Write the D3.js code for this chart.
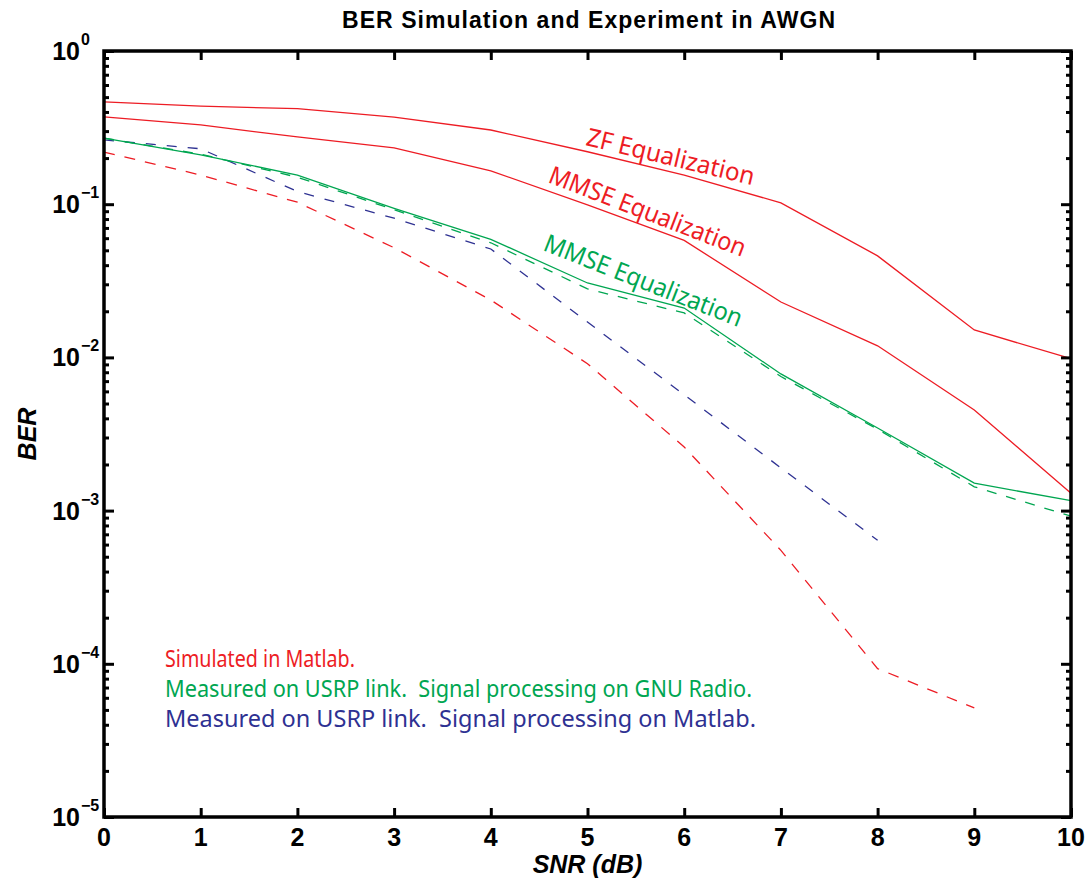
<!DOCTYPE html>
<html>
  <head>
    <title>BER Simulation and Experiment in AWGN</title>
    <script src="https://d3js.org/d3.v7.min.js"></script>
    <style>
      body { margin: 0; background: white; }
      .tick-label { font-family: "Liberation Sans", Arial, sans-serif; font-weight: bold; fill: black; }
      .note { font-family: "Noto Sans", "Open Sans", sans-serif; }
    </style>
  </head>
  <body>
    <script>
      let width = 1087, height = 882;
      let plotLeft = 104, plotRight = 1071, plotTop = 51, plotBottom = 817;

      // SNR points (dB)
      let snr = [0, 1, 2, 3, 4, 5, 6, 7, 8, 9, 10];
      // simulated in Matlab
      let zfSim = [0.465, 0.437, 0.42, 0.37, 0.305, 0.22, 0.155, 0.102, 0.046, 0.0151, 0.0098];
      let mmseSim = [0.371, 0.329, 0.275, 0.233, 0.165, 0.099, 0.058, 0.023, 0.0119, 0.00454, 0.0013];
      let awgnSim = [0.219, 0.155, 0.103, 0.052, 0.0237, 0.0091, 0.0026, 0.00055, 0.000093, 0.0000515];
      // measured, GNU Radio processing
      let mmseGnu = [0.27, 0.21, 0.155, 0.094, 0.059, 0.0306, 0.021, 0.0078, 0.00346, 0.00151, 0.00116];
      let awgnGnu = [0.27, 0.212, 0.15, 0.092, 0.056, 0.028, 0.0195, 0.0075, 0.0034, 0.00143, 0.00092];
      // measured, Matlab processing
      let awgnMatlab = [0.263, 0.23, 0.121, 0.081, 0.051, 0.017, 0.0057, 0.0019, 0.00064];

      let xTicks = [0, 1, 2, 3, 4, 5, 6, 7, 8, 9, 10];
      let yExponents = [0, -1, -2, -3, -4, -5];

      let red = "#ed1c24", green = "#00a651", blue = "#2e3192";

      let svg = d3.select("body").append("svg")
                  .attr("width", width)
                  .attr("height", height)
                  .style("background", "white");

      let x = d3.scaleLinear().domain([0, 10]).range([plotLeft, plotRight]);
      let y = d3.scaleLog().domain([1e-5, 1]).range([plotBottom, plotTop]);

      let line = d3.line()
                   .x(function(d) { return x(d[0]); })
                   .y(function(d) { return y(d[1]); });

      let series = [
        { values: zfSim, color: red, dash: null },
        { values: mmseSim, color: red, dash: null },
        { values: awgnSim, color: red, dash: "11,10" },
        { values: awgnMatlab, color: blue, dash: "10,11" },
        { values: awgnGnu, color: green, dash: "10,10" },
        { values: mmseGnu, color: green, dash: null }
      ];

      svg.append("g").selectAll("path").data(series)
         .enter().append("path")
         .attr("d", function(s) {
           return line(s.values.map(function(v, i) { return [snr[i], v]; }));
         })
         .attr("fill", "none")
         .attr("stroke", function(s) { return s.color; })
         .attr("stroke-width", 1.3)
         .attr("stroke-dasharray", function(s) { return s.dash; });

      // minor log ticks
      let minors = [];
      yExponents.slice(0, 5).forEach(function(e) {
        for (let k = 2; k <= 9; k++) minors.push(k * Math.pow(10, e - 1));
      });

      let axisStyle = function(g) {
        g.select(".domain").remove();
        g.selectAll(".tick line").attr("stroke", "black").attr("stroke-width", 3);
      };

      svg.append("g").attr("transform", `translate(0, ${plotBottom})`)
         .call(d3.axisBottom(x).tickValues(xTicks).tickSize(-9).tickFormat(""))
         .call(axisStyle);
      svg.append("g").attr("transform", `translate(0, ${plotTop})`)
         .call(d3.axisTop(x).tickValues(xTicks).tickSize(-9).tickFormat(""))
         .call(axisStyle);

      let majors = yExponents.map(function(e) { return Math.pow(10, e); });
      [[plotLeft, d3.axisLeft], [plotRight, d3.axisRight]].forEach(function(a) {
        svg.append("g").attr("transform", `translate(${a[0]}, 0)`)
           .call(a[1](y).tickValues(majors).tickSize(-10).tickFormat(""))
           .call(axisStyle);
        svg.append("g").attr("transform", `translate(${a[0]}, 0)`)
           .call(a[1](y).tickValues(minors).tickSize(-5).tickFormat(""))
           .call(axisStyle);
      });

      svg.append("rect")
         .attr("x", plotLeft).attr("y", plotTop)
         .attr("width", plotRight - plotLeft).attr("height", plotBottom - plotTop)
         .attr("fill", "none").attr("stroke", "black").attr("stroke-width", 3.5);

      // x tick labels
      svg.append("g").selectAll("text").data(xTicks)
         .enter().append("text")
         .attr("class", "tick-label")
         .attr("x", function(d) { return x(d); })
         .attr("y", plotBottom + 29)
         .attr("text-anchor", "middle")
         .style("font-size", "25px")
         .text(function(d) { return d; });

      // y tick labels 10^e
      svg.append("g").selectAll("text").data(yExponents)
         .enter().append("text")
         .attr("class", "tick-label")
         .attr("x", 80)
         .attr("y", function(e) { return y(Math.pow(10, e)) + 9; })
         .attr("text-anchor", "end")
         .style("font-size", "25px")
         .text("10");
      svg.append("g").selectAll("text").data(yExponents)
         .enter().append("text")
         .attr("class", "tick-label")
         .attr("x", 81)
         .attr("y", function(e) { return y(Math.pow(10, e)) - 6; })
         .style("font-size", "16px")
         .text(function(e) { return e === 0 ? "0" : "\u2212" + Math.abs(e); });

      svg.append("text")
         .attr("x", 342)
         .attr("y", 28)
         .attr("textLength", 493)
         .attr("lengthAdjust", "spacing")
         .style("font-family", "Liberation Sans, Arial, sans-serif")
         .style("font-weight", "bold")
         .style("font-size", "23px")
         .text("BER Simulation and Experiment in AWGN");

      svg.append("text")
         .attr("x", (plotLeft + plotRight) / 2)
         .attr("y", 873)
         .attr("text-anchor", "middle")
         .style("font-family", "Liberation Sans, Arial, sans-serif")
         .style("font-weight", "bold")
         .style("font-style", "italic")
         .style("font-size", "25px")
         .text("SNR (dB)");

      svg.append("text")
         .attr("transform", `translate(36, ${(plotTop + plotBottom) / 2}) rotate(-90)`)
         .attr("text-anchor", "middle")
         .style("font-family", "Liberation Sans, Arial, sans-serif")
         .style("font-weight", "bold")
         .style("font-style", "italic")
         .style("font-size", "25px")
         .text("BER");

      // curve annotations
      let notes = [
        { text: "ZF Equalization", color: red, x: 585, y: 145, angle: 13.5, len: 172 },
        { text: "MMSE Equalization", color: red, x: 547, y: 182, angle: 21, len: 209 },
        { text: "MMSE Equalization", color: green, x: 542, y: 250, angle: 21.4, len: 211 }
      ];
      svg.append("g").selectAll("text").data(notes)
         .enter().append("text")
         .attr("class", "note")
         .attr("transform", function(d) { return `translate(${d.x}, ${d.y}) rotate(${d.angle})`; })
         .attr("textLength", function(d) { return d.len; })
         .attr("lengthAdjust", "spacingAndGlyphs")
         .attr("fill", function(d) { return d.color; })
         .style("font-size", "25px")
         .text(function(d) { return d.text; });

      // legend text
      let legendLines = [
        { text: "Simulated in Matlab.", color: red, len: 190 },
        { text: "Measured on USRP link.\u00a0 Signal processing on GNU Radio.", color: green, len: 587 },
        { text: "Measured on USRP link.\u00a0 Signal processing on Matlab.", color: blue, len: 591 }
      ];
      svg.append("g").selectAll("text").data(legendLines)
         .enter().append("text")
         .attr("class", "note")
         .attr("x", 165)
         .attr("y", function(d, i) { return 667 + i * 30; })
         .attr("textLength", function(d) { return d.len; })
         .attr("lengthAdjust", "spacingAndGlyphs")
         .attr("fill", function(d) { return d.color; })
         .style("font-size", "24px")
         .text(function(d) { return d.text; });
    </script>
  </body>
</html>
